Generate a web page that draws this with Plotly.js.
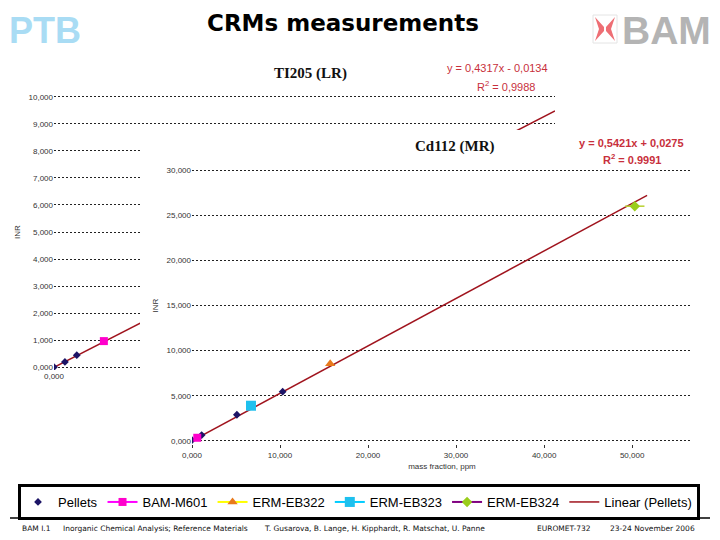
<!DOCTYPE html>
<html>
<head>
<meta charset="utf-8">
<script src="https://cdn.plot.ly/plotly-3.0.1.min.js"></script>
<style>
  body { margin: 0; background: #fff; }
  #chart { width: 720px; height: 540px; }
</style>
</head>
<body>
<div id="chart"></div>
<script>
// ---- Tl205 (LR) : back panel ----
const tlPelletsX = [0, 0.48, 1.0];
const tlPelletsY = [0.0, 0.19, 0.44];
const tlBamX = [2.19];
const tlBamY = [0.96];
const tlFitX = [0, 22];
const tlFitY = [-0.01, 9.48];

// ---- Cd112 (MR) : front panel ----
const cdPelletsX = [0, 1.1, 5.1, 10.3];
const cdPelletsY = [0.1, 0.65, 2.9, 5.45];
const cdBamX = [0.6];
const cdBamY = [0.35];
const eb322X = [15.7];
const eb322Y = [8.55];
const eb323X = [6.7];
const eb323Y = [3.9];
const eb324X = [50.3];
const eb324Y = [26.0];
const eb324Err = [1.1];
const cdFitX = [0, 51.7];
const cdFitY = [0.0, 27.2];

const names = ['Pellets', 'BAM-M601', 'ERM-EB322', 'ERM-EB323', 'ERM-EB324', 'Linear (Pellets)'];

// pixel -> paper helpers (page is 720x540, no margins)
const W = 720, H = 540;
const px = x => x / W;
const py = y => 1 - y / H;

const fitColor = '#a0141e';
const tickFont = { family: 'Liberation Sans, Arial', size: 8, color: '#333' };

let traces = [
    // back panel
    { x: tlFitX, y: tlFitY, xaxis: 'x', yaxis: 'y', mode: 'lines', line: { color: fitColor, width: 1.5 },
      name: names[5], legendgroup: 'fit', showlegend: false },
    { x: tlPelletsX, y: tlPelletsY, xaxis: 'x', yaxis: 'y', mode: 'markers',
      marker: { symbol: 'diamond', size: 6, color: '#1c1466' }, name: names[0], legendgroup: 'p', showlegend: false },
    { x: tlBamX, y: tlBamY, xaxis: 'x', yaxis: 'y', mode: 'markers',
      marker: { symbol: 'square', size: 8, color: '#ff00cc' }, name: names[1], legendgroup: 'bam', showlegend: false },

    // white cover panel (sits between back and front)
    { x: [], y: [], xaxis: 'x2', yaxis: 'y2', mode: 'markers', showlegend: false, hoverinfo: 'skip' },

    // front panel
    { x: cdFitX, y: cdFitY, xaxis: 'x3', yaxis: 'y3', mode: 'lines', line: { color: fitColor, width: 1.5 },
      name: names[5], legendgroup: 'fit', legendrank: 6 },
    { x: cdPelletsX, y: cdPelletsY, xaxis: 'x3', yaxis: 'y3', mode: 'markers',
      marker: { symbol: 'diamond', size: 6, color: '#1c1466' }, name: names[0], legendgroup: 'p', legendrank: 1 },
    { x: cdBamX, y: cdBamY, xaxis: 'x3', yaxis: 'y3', mode: 'lines+markers',
      line: { color: '#ff00ff', width: 2 }, marker: { symbol: 'square', size: 8, color: '#ff00cc' },
      name: names[1], legendgroup: 'bam', legendrank: 2 },
    { x: eb322X, y: eb322Y, xaxis: 'x3', yaxis: 'y3', mode: 'lines+markers',
      line: { color: '#ffff00', width: 2 }, marker: { symbol: 'triangle-up', size: 9, color: '#e87a1c' },
      name: names[2], legendrank: 3 },
    { x: eb323X, y: eb323Y, xaxis: 'x3', yaxis: 'y3', mode: 'lines+markers',
      line: { color: '#00ccff', width: 2 }, marker: { symbol: 'square', size: 10, color: '#1ec0ee' },
      name: names[3], legendrank: 4 },
    { x: eb324X, y: eb324Y, xaxis: 'x3', yaxis: 'y3', mode: 'lines+markers',
      line: { color: '#800080', width: 2 }, marker: { symbol: 'diamond', size: 8, color: '#9acd1a' },
      error_x: { type: 'data', array: eb324Err, color: '#b8d030', thickness: 1.5, width: 0 },
      name: names[4], legendrank: 5 }
];

const gridStyle = { showgrid: true, gridcolor: '#222', gridwidth: 1, griddash: '2px,2px' };

// small helper for centred paper annotations
function note(text, x, y, font, extra) {
    return Object.assign({ text: text, x: px(x), y: py(y), xref: 'paper', yref: 'paper',
        xanchor: 'center', yanchor: 'middle', showarrow: false, font: font }, extra || {});
}
const footFont = { family: 'DejaVu Sans', size: 7.5, color: '#111' };
const eqFont = { family: 'Liberation Sans, Arial', size: 11, color: '#c8303c' };
const panelFont = { family: 'Liberation Serif', size: 15, color: '#111' };

const layout = {
    width: W, height: H,
    margin: { l: 0, r: 0, t: 0, b: 0 },
    paper_bgcolor: '#fff', plot_bgcolor: '#fff',
    separators: ',.',
    showlegend: true,
    legend: {
        orientation: 'h', x: px(359), xanchor: 'center', y: py(484), yanchor: 'top',
        borderwidth: 3, bordercolor: '#000', bgcolor: '#fff',
        font: { family: 'Liberation Sans, Arial', size: 13, color: '#000' }
    },
    // back axes (y range padded a little so the end gridlines are kept)
    xaxis: { domain: [px(54), px(555)], range: [0, 22], dtick: 5, anchor: 'y', showgrid: false,
             zeroline: false, tickformat: '.3f', tickfont: tickFont },
    yaxis: Object.assign({ domain: [py(370), py(94)], range: [-0.11, 10.11], dtick: 1, anchor: 'x',
             zeroline: false, tickformat: '.3f', tickfont: tickFont,
             title: { text: 'INR', font: tickFont, standoff: 6 } }, gridStyle),
    // cover axes
    xaxis2: { domain: [px(140), px(715)], anchor: 'y2', visible: false, range: [0, 1] },
    yaxis2: { domain: [py(475), py(130)], anchor: 'x2', visible: false, range: [0, 1] },
    // front axes
    xaxis3: { domain: [px(192), px(692)], range: [0, 56.8], dtick: 10, anchor: 'y3', showgrid: false,
              zeroline: false, tickformat: '.3f', tickfont: tickFont, ticks: 'outside', ticklen: 3,
              tickcolor: '#333', title: { text: 'mass fraction, ppm', font: tickFont, standoff: 4 } },
    yaxis3: Object.assign({ domain: [py(444), py(167)], range: [-0.34, 30.34], dtick: 5, anchor: 'x3',
              zeroline: false, tickformat: '.3f', tickfont: tickFont,
              title: { text: 'INR', font: tickFont, standoff: 6 } }, gridStyle),
    shapes: [
        // footer rule
        { type: 'line', xref: 'paper', yref: 'paper', x0: px(10), x1: px(710), y0: py(518), y1: py(518),
          line: { color: '#000', width: 1.5 } },
        // BAM logo box and mark
        { type: 'rect', xref: 'paper', yref: 'paper', x0: px(593), x1: px(617), y0: py(43), y1: py(15),
          line: { color: '#e4e4e4', width: 1 }, fillcolor: '#fff' },
        { type: 'path', xref: 'paper', yref: 'paper', fillcolor: '#ee6e74', line: { width: 0 },
          path: `M${px(595)},${py(17)} L${px(604)},${py(27)} L${px(604)},${py(31)} L${px(595)},${py(41)} L${px(599)},${py(29)} Z` },
        { type: 'path', xref: 'paper', yref: 'paper', fillcolor: '#ee6e74', line: { width: 0 },
          path: `M${px(615)},${py(17)} L${px(606)},${py(27)} L${px(606)},${py(31)} L${px(615)},${py(41)} L${px(611)},${py(29)} Z` }
    ],
    annotations: [
        note('<b>CRMs measurements</b>', 343, 23, { family: 'DejaVu Sans', size: 23, color: '#000' }),
        note('<b>PTB</b>', 45, 30, { family: 'Liberation Sans', size: 36, color: '#a9dcf4' }),
        note('<b>BAM</b>', 666, 30, { family: 'Liberation Sans, Arial', size: 39, color: '#b4b4b4' }),
        // panel titles
        note('<b>TI205 (LR)</b>', 310, 73, panelFont),
        note('<b>Cd112 (MR)</b>', 455, 147, panelFont),
        // trendline equations
        note('y = 0,4317x - 0,0134', 497, 68, eqFont),
        note('R<sup>2</sup> = 0,9988', 506, 86, eqFont),
        note('<b>y = 0,5421x + 0,0275</b>', 631, 143, eqFont),
        note('<b>R<sup>2</sup> = 0.9991</b>', 632, 159, eqFont),
        // footer
        note('BAM I.1', 20, 528, footFont, { xanchor: 'left' }),
        note('Inorganic Chemical Analysis; Reference Materials', 61, 528, footFont, { xanchor: 'left' }),
        note('T. Gusarova, B. Lange, H. Kipphardt, R. Matschat, U. Panne', 262, 528, footFont, { xanchor: 'left' }),
        note('EUROMET-732', 535, 528, footFont, { xanchor: 'left' }),
        note('23-24 November 2006', 608, 528, footFont, { xanchor: 'left' })
    ]
};

Plotly.newPlot('chart', traces, layout, { displayModeBar: false, staticPlot: true });
</script>
</body>
</html>
